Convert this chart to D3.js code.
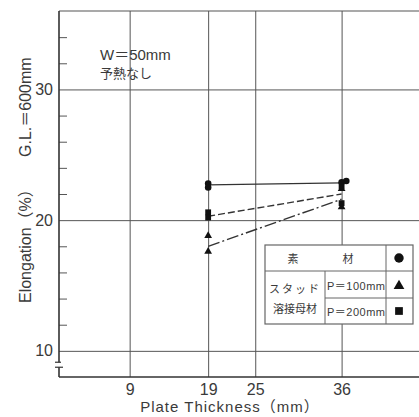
<!DOCTYPE html>
<html>
<head>
<meta charset="utf-8">
<script src="https://cdnjs.cloudflare.com/ajax/libs/d3/7.8.5/d3.min.js"></script>
<style>
  body { margin: 0; background: #fff; }
  svg { display: block; }
  text { fill: #3a3a3a; font-family: "Liberation Sans", "Noto Sans CJK JP", sans-serif; }
  .jp { font-family: "Noto Sans CJK JP", sans-serif; }
</style>
</head>
<body>
<div id="chart"></div>
<script>
// data
var xTicks = [9, 19, 25, 36];
var yTicks = [10, 20, 30];
var yMinor = [12, 14, 16, 18, 22, 24, 26, 28, 32, 34];

// 素材 (base metal)
var baseX = [19, 19, 36, 36.6];
var baseY = [22.8, 22.5, 22.9, 23.0];
// スタッド溶接母材 P=100mm
var p100X = [19, 19, 36, 36];
var p100Y = [18.8, 17.6, 22.4, 21.0];
// スタッド溶接母材 P=200mm
var p200X = [19, 19, 36, 36];
var p200Y = [20.6, 20.2, 22.6, 21.3];

// mean lines
var lineX = [19, 36];
var baseMean = [22.7, 22.85];
var p100Mean = [18.0, 21.6];
var p200Mean = [20.3, 22.0];

var svgWidth = 419, svgHeight = 417;
var margin = { top: 11, right: 0, bottom: 40, left: 59 };
var width = svgWidth - margin.left - margin.right;
var height = svgHeight - margin.top - margin.bottom;

var svg = d3.select("#chart").append("svg")
  .attr("width", svgWidth)
  .attr("height", svgHeight);

var chartGroup = svg.append("g")
  .attr("transform", `translate(${margin.left}, ${margin.top})`);

var x = d3.scaleLinear().domain([0, 45.86]).range([0, width]);
var y = d3.scaleLinear().domain([8, 36]).range([height, 0]);

// vertical grid + x labels
var bottomAxis = d3.axisBottom(x).tickValues(xTicks).tickSize(-height).tickPadding(6);
var gx = chartGroup.append("g")
  .attr("transform", `translate(0, ${height})`)
  .call(bottomAxis);
gx.select(".domain").remove();
gx.selectAll("line").attr("stroke", "#555").attr("stroke-width", 1);
gx.selectAll("text").attr("font-size", 16).attr("fill", "#3a3a3a").attr("dy", "0.75em");

// horizontal grid + y labels
var leftAxis = d3.axisLeft(y).tickValues(yTicks).tickSize(-width).tickPadding(6);
var gy = chartGroup.append("g").call(leftAxis);
gy.select(".domain").remove();
gy.selectAll("line").attr("stroke", "#555").attr("stroke-width", 1);
gy.selectAll("text").attr("font-size", 16).attr("fill", "#3a3a3a");

// minor ticks on inside
var minorAxis = d3.axisLeft(y).tickValues(yMinor).tickSize(-8).tickFormat("");
var gm = chartGroup.append("g").call(minorAxis);
gm.select(".domain").remove();
gm.selectAll("line").attr("stroke", "#555");

// frame: top, left, bottom
chartGroup.append("line")
  .attr("x1", 0).attr("x2", width).attr("y1", 0).attr("y2", 0)
  .attr("stroke", "#555").attr("stroke-width", 1.2);
chartGroup.append("line")
  .attr("x1", 0).attr("x2", 0).attr("y1", 0).attr("y2", height)
  .attr("stroke", "#333").attr("stroke-width", 1.6);
chartGroup.append("line")
  .attr("x1", 0).attr("x2", width).attr("y1", height).attr("y2", height)
  .attr("stroke", "#333").attr("stroke-width", 1.6);

// axis break
var by = y(8.9);
chartGroup.append("rect")
  .attr("x", -3).attr("y", by - 3).attr("width", 6).attr("height", 5)
  .attr("fill", "#fff");
chartGroup.append("line")
  .attr("x1", -4).attr("x2", 2).attr("y1", by - 3).attr("y2", by - 3)
  .attr("stroke", "#333").attr("stroke-width", 1.2);
chartGroup.append("line")
  .attr("x1", -4).attr("x2", 4).attr("y1", by + 2).attr("y2", by + 2)
  .attr("stroke", "#333").attr("stroke-width", 1.2);

// mean lines
var line = d3.line()
  .x(d => x(d[0]))
  .y(d => y(d[1]));

chartGroup.append("path")
  .datum(d3.zip(lineX, baseMean))
  .attr("d", line)
  .attr("fill", "none").attr("stroke", "#333").attr("stroke-width", 1.4);
chartGroup.append("path")
  .datum(d3.zip(lineX, p200Mean))
  .attr("d", line)
  .attr("fill", "none").attr("stroke", "#333").attr("stroke-width", 1.4)
  .attr("stroke-dasharray", "7,3");
chartGroup.append("path")
  .datum(d3.zip(lineX, p100Mean))
  .attr("d", line)
  .attr("fill", "none").attr("stroke", "#333").attr("stroke-width", 1.4)
  .attr("stroke-dasharray", "12,3,2,3");

// points
chartGroup.selectAll(".base")
  .data(d3.zip(baseX, baseY))
  .enter().append("path")
  .attr("transform", d => `translate(${x(d[0])}, ${y(d[1])})`)
  .attr("d", d3.symbol(d3.symbolCircle, 34))
  .attr("fill", "#111");

chartGroup.selectAll(".p100")
  .data(d3.zip(p100X, p100Y))
  .enter().append("path")
  .attr("transform", d => `translate(${x(d[0])}, ${y(d[1])})`)
  .attr("d", d3.symbol(d3.symbolTriangle, 26))
  .attr("fill", "#111");

chartGroup.selectAll(".p200")
  .data(d3.zip(p200X, p200Y))
  .enter().append("path")
  .attr("transform", d => `translate(${x(d[0])}, ${y(d[1])})`)
  .attr("d", d3.symbol(d3.symbolSquare, 34))
  .attr("fill", "#111");

// note
svg.append("text")
  .attr("x", 100).attr("y", 60)
  .attr("font-size", 15)
  .text("W＝50mm");
svg.append("text")
  .attr("class", "jp")
  .attr("x", 100).attr("y", 78)
  .attr("font-size", 13)
  .text("予熱なし");

// axis titles
svg.append("text")
  .attr("transform", "translate(31, 303) rotate(-90)")
  .attr("font-size", 16)
  .attr("fill", "#444")
  .text("Elongation（%）");
svg.append("text")
  .attr("transform", "translate(31, 157) rotate(-90)")
  .attr("font-size", 16)
  .attr("fill", "#444")
  .text("G.L.＝600mm");

svg.append("text")
  .attr("x", 230).attr("y", 412)
  .attr("text-anchor", "middle")
  .attr("font-size", 15)
  .attr("letter-spacing", 1)
  .attr("fill", "#444")
  .text("Plate Thickness（mm）");

// legend table
var lg = svg.append("g");
lg.append("rect")
  .attr("x", 265).attr("y", 245).attr("width", 148).attr("height", 79)
  .attr("fill", "#fff").attr("stroke", "#666").attr("stroke-width", 1.2);
lg.append("line").attr("x1", 265).attr("x2", 413).attr("y1", 271).attr("y2", 271)
  .attr("stroke", "#666");
lg.append("line").attr("x1", 325).attr("x2", 413).attr("y1", 298).attr("y2", 298)
  .attr("stroke", "#666");
lg.append("line").attr("x1", 325).attr("x2", 325).attr("y1", 271).attr("y2", 324)
  .attr("stroke", "#666");
lg.append("line").attr("x1", 386).attr("x2", 386).attr("y1", 245).attr("y2", 324)
  .attr("stroke", "#666");

lg.append("text").attr("class", "jp").attr("x", 293).attr("y", 263)
  .attr("text-anchor", "middle").attr("font-size", 11).attr("fill", "#666").text("素");
lg.append("text").attr("class", "jp").attr("x", 348).attr("y", 263)
  .attr("text-anchor", "middle").attr("font-size", 11).attr("fill", "#666").text("材");
lg.append("text").attr("class", "jp").attr("x", 295).attr("y", 293)
  .attr("text-anchor", "middle").attr("font-size", 11).attr("fill", "#777")
  .attr("letter-spacing", 2).text("スタッド");
lg.append("text").attr("class", "jp").attr("x", 295).attr("y", 313)
  .attr("text-anchor", "middle").attr("font-size", 11).attr("fill", "#666").text("溶接母材");
lg.append("text").attr("x", 327).attr("y", 290)
  .attr("font-size", 11).attr("fill", "#666").attr("textLength", 58).text("P＝100mm");
lg.append("text").attr("x", 327).attr("y", 316)
  .attr("font-size", 11).attr("fill", "#666").attr("textLength", 58).text("P＝200mm");

lg.append("path").attr("transform", "translate(399, 258)")
  .attr("d", d3.symbol(d3.symbolCircle, 70)).attr("fill", "#111");
lg.append("path").attr("transform", "translate(399, 286)")
  .attr("d", d3.symbol(d3.symbolTriangle, 50)).attr("fill", "#111");
lg.append("path").attr("transform", "translate(399, 311)")
  .attr("d", d3.symbol(d3.symbolSquare, 60)).attr("fill", "#111");
</script>
</body>
</html>
